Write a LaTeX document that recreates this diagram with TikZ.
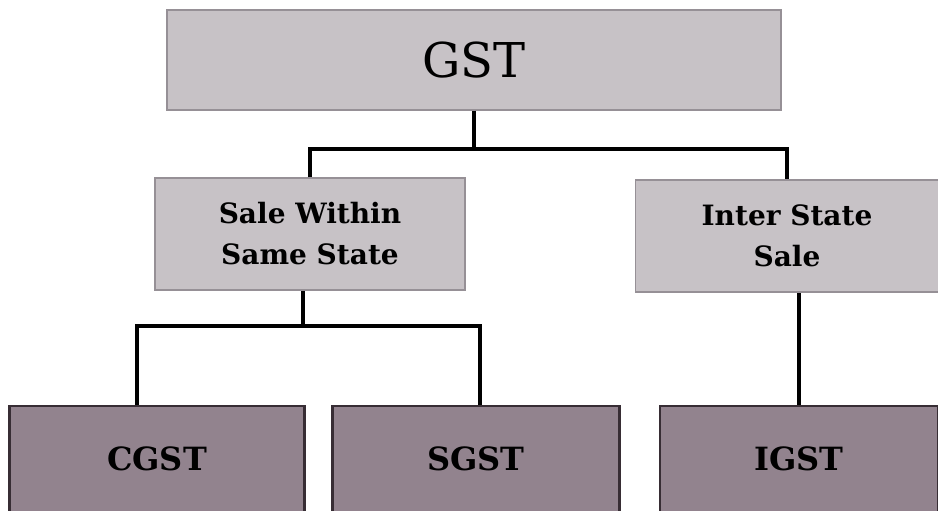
\documentclass[tikz,border=0pt]{standalone}
\usepackage{fontspec}
\setmainfont{DejaVu Serif}
\usetikzlibrary{positioning,calc}

\definecolor{lightbox}{RGB}{199,194,198}
\definecolor{darkbox}{RGB}{146,131,142}
\definecolor{lightedge}{RGB}{150,144,150}
\definecolor{darkedge}{RGB}{55,45,52}

\tikzset{
    topbox/.style={draw=lightedge, line width=1.5pt, fill=lightbox, inner sep=0pt,
        align=center, font=\fontsize{28}{41}\selectfont\bfseries},
    leafbox/.style={draw=darkedge, line width=2.5pt, fill=darkbox, inner sep=0pt,
        font=\fontsize{32}{36}\selectfont\bfseries},
    link/.style={line width=4pt}
}

\begin{document}
\begin{tikzpicture}[x=1pt,y=-1pt]
\useasboundingbox (0,0) rectangle (938,511);

% GST box
\node[topbox, minimum width=614pt, minimum height=100pt,
      font=\fontsize{48}{52}\selectfont] (gst) at (474,60) {GST};

% Kind of sale
\node[topbox, minimum width=310pt, minimum height=112pt] (same) at (310,234)
    {Sale Within\\Same State};
\node[topbox, minimum width=303pt, minimum height=112pt] (inter) at (787,236)
    {Inter State\\Sale};

% Tax parts
\node[leafbox, minimum width=295pt, minimum height=106pt] (cgst) at (157,459) {CGST};
\node[leafbox, minimum width=287pt, minimum height=106pt] (sgst) at (476,459) {SGST};
\node[leafbox, minimum width=278pt, minimum height=106pt] (igst) at (799,459) {IGST};

% GST to kind of sale
\draw[link] (gst.south) -- ++(0,38) coordinate (split1);
\draw[link] (same.north) |- (split1) -| (inter.north);

% Same state to CGST and SGST
\draw[link] ([xshift=-7pt]same.south) -- ++(0,35) coordinate (split2);
\draw[link] ([xshift=-20pt]cgst.north) |- (split2) -| ([xshift=4pt]sgst.north);

% Inter state to IGST
\draw[link] (igst.north) -- (igst.north |- inter.south);

\end{tikzpicture}
\end{document}
